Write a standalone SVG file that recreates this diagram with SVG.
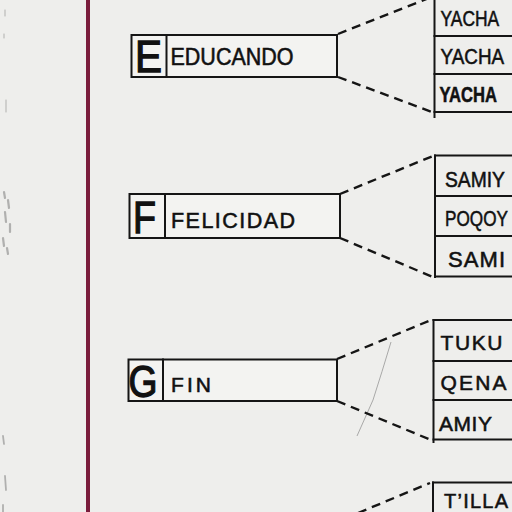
<svg xmlns="http://www.w3.org/2000/svg" width="512" height="512" viewBox="0 0 512 512">
  <style>
    .paper { fill: #eeeeec; }
    .box { fill: #f3f3f1; stroke: #151515; stroke-width: 2; }
    .ln { fill: none; stroke: #151515; stroke-width: 2; stroke-linecap: square; }
    .dash { fill: none; stroke: #151515; stroke-width: 2.4; stroke-dasharray: 9 6; }
    .big { font-family: "Liberation Sans", Arial, sans-serif; font-size: 44px; fill: #111; stroke: #111; stroke-width: 1.3; text-anchor: middle; }
    .lbl { font-family: "Liberation Sans", Arial, sans-serif; fill: #111; stroke: #111; stroke-width: 0.55; }
    .margin { stroke: #7a1c3c; stroke-width: 4; }
    .smudge { stroke: #555; stroke-linecap: round; opacity: 0.4; }
  </style>

  <rect class="paper" x="0" y="0" width="512" height="512"/>

  <!-- paper marks -->
  <g id="paper-marks">
    <line class="margin" x1="88" y1="0" x2="88" y2="512"/>
    <path class="smudge" d="M5 10 L5 16 M4 34 L4 38 M6 100 L6 112" stroke-width="1"/>
    <path class="smudge" d="M4 192 L5 198 M8 200 L9 208 M5 212 L6 222 M10 224 L10 232 M3 238 L4 246 M7 248 L8 254" stroke-width="2.2"/>
    <path class="smudge" d="M3 436 L4 444 M5 476 L6 490 M3 505 L3 512" stroke-width="1.8"/>
    <path d="M391 342 Q382 372 373 400 L357 436" fill="none" stroke="#8a8a8a" stroke-width="1" opacity="0.7"/>
  </g>

  <!-- connectors -->
  <g id="connectors">
    <line class="dash" x1="338" y1="34" x2="434" y2="-4"/>
    <line class="dash" x1="338" y1="77" x2="432" y2="112"/>
    <line class="dash" x1="340" y1="194" x2="433" y2="156"/>
    <line class="dash" x1="340" y1="238" x2="433" y2="277"/>
    <line class="dash" x1="337" y1="359" x2="431" y2="320"/>
    <line class="dash" x1="337" y1="401" x2="431" y2="440"/>
    <line class="dash" x1="358" y1="513" x2="430" y2="483"/>
  </g>

  <!-- left nodes -->
  <g id="node-E">
    <rect class="box" x="131.5" y="35" width="205.5" height="42"/>
    <line class="ln" x1="166.5" y1="35" x2="166.5" y2="77"/>
    <text class="big" x="148.5" y="71.5" textLength="27" lengthAdjust="spacingAndGlyphs">E</text>
    <text class="lbl" x="170.5" y="64.5" font-size="23" textLength="123" lengthAdjust="spacingAndGlyphs">EDUCANDO</text>
  </g>

  <g id="node-F">
    <rect class="box" x="129.5" y="194" width="210.5" height="44"/>
    <line class="ln" x1="165" y1="194" x2="165" y2="238"/>
    <text class="big" x="144.5" y="233" textLength="23" lengthAdjust="spacingAndGlyphs">F</text>
    <text class="lbl" x="171" y="228" font-size="21.5" textLength="124">FELICIDAD</text>
  </g>

  <g id="node-G">
    <rect class="box" x="128.5" y="359.5" width="208.5" height="41.5"/>
    <line class="ln" x1="163" y1="359.5" x2="163" y2="401"/>
    <text class="big" x="143" y="396.5" textLength="29" lengthAdjust="spacingAndGlyphs">G</text>
    <text class="lbl" x="171" y="391.5" font-size="21" textLength="40">FIN</text>
  </g>

  <!-- right columns -->
  <g id="col-E">
    <line class="ln" x1="434.5" y1="-2" x2="434.5" y2="117"/>
    <line class="ln" x1="434.5" y1="36" x2="514" y2="36"/>
    <line class="ln" x1="434.5" y1="74" x2="514" y2="74"/>
    <line class="ln" x1="434.5" y1="112" x2="514" y2="112"/>
    <text class="lbl" font-size="22" transform="translate(440.5 25.5) scale(0.792 1)">YACHA</text>
    <text class="lbl" font-size="22" transform="translate(440.5 64) scale(0.858 1)">YACHA</text>
    <text class="lbl" font-size="22" font-weight="bold" transform="translate(439.5 101.5) scale(0.754 1)">YACHA</text>
  </g>

  <g id="col-F">
    <line class="ln" x1="435" y1="155.5" x2="435" y2="277"/>
    <line class="ln" x1="435" y1="155.5" x2="514" y2="155.5"/>
    <line class="ln" x1="435" y1="196" x2="514" y2="196"/>
    <line class="ln" x1="435" y1="236" x2="514" y2="236"/>
    <line class="ln" x1="435" y1="276.5" x2="514" y2="276.5"/>
    <text class="lbl" font-size="22" transform="translate(445 186.5) scale(0.876 1)">SAMIY</text>
    <text class="lbl" font-size="22" transform="translate(445 226) scale(0.781 1)">POQOY</text>
    <text class="lbl" x="448" y="266.5" font-size="22" textLength="57">SAMI</text>
  </g>

  <g id="col-G">
    <line class="ln" x1="433.5" y1="320" x2="433.5" y2="442"/>
    <line class="ln" x1="433.5" y1="320" x2="514" y2="320"/>
    <line class="ln" x1="433.5" y1="361" x2="514" y2="361"/>
    <line class="ln" x1="433.5" y1="400" x2="514" y2="400"/>
    <line class="ln" x1="433.5" y1="439.5" x2="514" y2="439.5"/>
    <text class="lbl" x="440.5" y="350" font-size="21" textLength="62">TUKU</text>
    <text class="lbl" x="440.5" y="389.5" font-size="21" textLength="66">QENA</text>
    <text class="lbl" x="439" y="431" font-size="21" textLength="53">AMIY</text>
  </g>

  <g id="col-H">
    <line class="ln" x1="433" y1="482.5" x2="433" y2="514"/>
    <line class="ln" x1="433" y1="482.5" x2="514" y2="482.5"/>
    <text class="lbl" x="444" y="508" font-size="20" textLength="64">T’ILLA</text>
  </g>
</svg>
